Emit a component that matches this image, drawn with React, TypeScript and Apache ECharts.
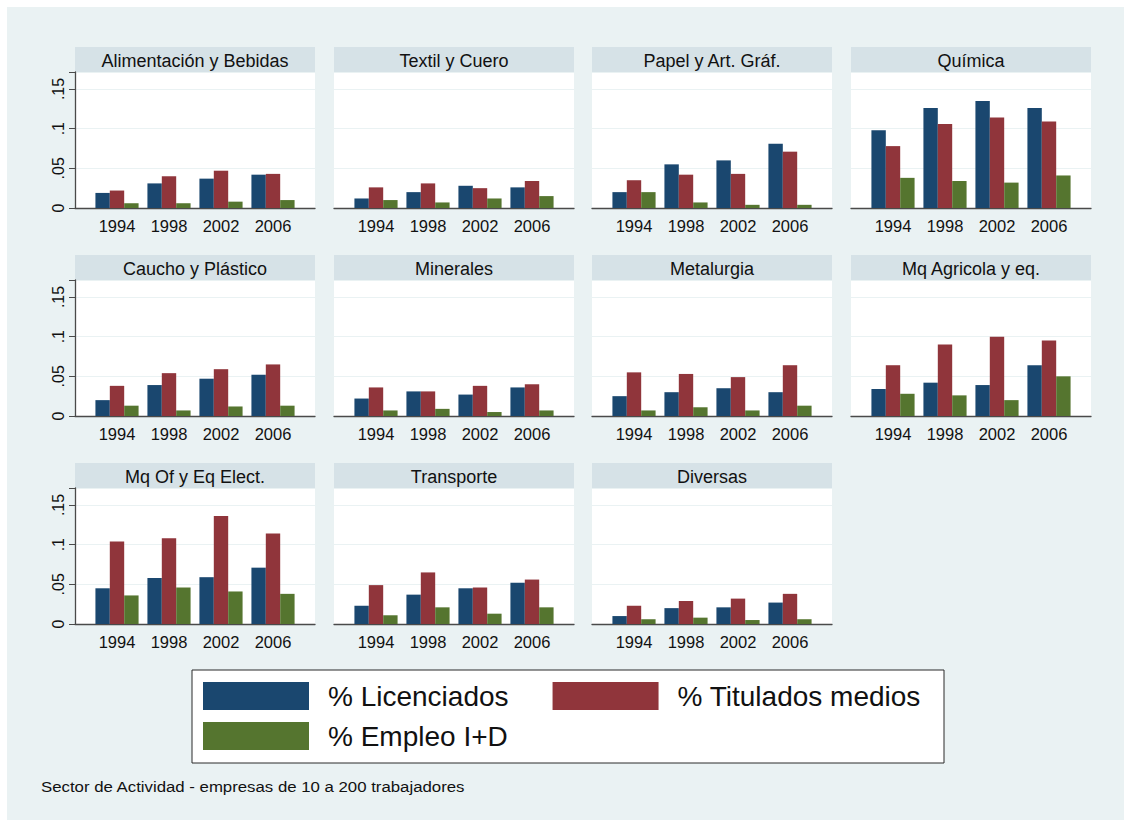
import React, { useEffect, useRef } from 'react';
import * as echarts from 'echarts';

const YEARS = ['1994', '1998', '2002', '2006'];

const SECTORS = [
  'Alimentación y Bebidas',
  'Textil y Cuero',
  'Papel y Art. Gráf.',
  'Química',
  'Caucho y Plástico',
  'Minerales',
  'Metalurgia',
  'Mq Agricola y eq.',
  'Mq Of y Eq Elect.',
  'Transporte',
  'Diversas',
];

// one row per sector, one value per year
const LICENCIADOS = [
  [0.019, 0.031, 0.037, 0.042],
  [0.012, 0.02, 0.028, 0.026],
  [0.02, 0.055, 0.06, 0.081],
  [0.098, 0.126, 0.135, 0.126],
  [0.02, 0.039, 0.047, 0.052],
  [0.022, 0.031, 0.027, 0.036],
  [0.025, 0.03, 0.035, 0.03],
  [0.034, 0.042, 0.039, 0.064],
  [0.045, 0.058, 0.059, 0.071],
  [0.023, 0.037, 0.045, 0.052],
  [0.01, 0.02, 0.021, 0.027],
];

const TITULADOS_MEDIOS = [
  [0.022, 0.04, 0.047, 0.043],
  [0.026, 0.031, 0.025, 0.034],
  [0.035, 0.042, 0.043, 0.071],
  [0.078, 0.106, 0.114, 0.109],
  [0.038, 0.054, 0.059, 0.065],
  [0.036, 0.031, 0.038, 0.04],
  [0.055, 0.053, 0.049, 0.064],
  [0.064, 0.09, 0.1, 0.095],
  [0.104, 0.108, 0.136, 0.114],
  [0.049, 0.065, 0.046, 0.056],
  [0.023, 0.029, 0.032, 0.038],
];

const EMPLEO_ID = [
  [0.006, 0.006, 0.008, 0.01],
  [0.01, 0.007, 0.012, 0.015],
  [0.02, 0.007, 0.004, 0.004],
  [0.038, 0.034, 0.032, 0.041],
  [0.013, 0.007, 0.012, 0.013],
  [0.007, 0.009, 0.005, 0.007],
  [0.007, 0.011, 0.007, 0.013],
  [0.028, 0.026, 0.02, 0.05],
  [0.036, 0.046, 0.041, 0.038],
  [0.011, 0.021, 0.013, 0.021],
  [0.006, 0.008, 0.005, 0.006],
];

const SERIES_NAMES = ['% Licenciados', '% Titulados medios', '% Empleo I+D'];
const SERIES_COLORS = ['#1a476f', '#90353b', '#55752f'];

const Y_TICK_VALUES = [0, 0.05, 0.1, 0.15];
const Y_TICK_LABELS = ['0', '.05', '.1', '.15'];
const Y_MAX = 0.1714;

const FOOTNOTE = 'Sector de Actividad - empresas de 10 a 200 trabajadores';

const FONT = '"Liberation Sans", Arial, Helvetica, sans-serif';
const BG = '#eaf2f3';
const STRIP = '#d6e2e7';
const AXIS = '#4a4a4a';

// chart canvas is inset by this offset inside the white page frame
const OFF = 7;
const PANEL_W = 240;
const PANEL_PAD = 16;
const STRIP_H = 25;
const PLOT_H = 136;
const COL_X = [75, 334, 592, 851];
const ROW_Y = [47, 255, 463];

function buildOption() {
  const grid: any[] = [];
  const xAxis: any[] = [];
  const yAxis: any[] = [];
  const series: any[] = [];
  const graphic: any[] = [];
  const values = [LICENCIADOS, TITULADOS_MEDIOS, EMPLEO_ID];

  SECTORS.forEach((sector, i) => {
    const r = Math.floor(i / 4);
    const c = i % 4;
    const left = COL_X[c] - OFF;
    const stripTop = ROW_Y[r] - OFF;
    const plotTop = stripTop + STRIP_H;
    const first = c === 0;

    // panel frame: white plot area, gridlines, axes
    grid.push({
      left,
      top: plotTop,
      width: PANEL_W,
      height: PLOT_H,
      show: true,
      backgroundColor: '#ffffff',
      borderWidth: 0,
      containLabel: false,
    });
    // bar area, inset from the frame
    grid.push({
      left: left + PANEL_PAD,
      top: plotTop,
      width: PANEL_W - 2 * PANEL_PAD,
      height: PLOT_H,
      show: false,
      containLabel: false,
    });

    xAxis.push({
      gridIndex: 2 * i,
      type: 'value',
      min: 0,
      max: 1,
      axisLine: { show: true, lineStyle: { color: AXIS, width: 1.3 } },
      axisTick: { show: false },
      axisLabel: { show: false },
      splitLine: { show: false },
    });
    yAxis.push({
      gridIndex: 2 * i,
      type: 'value',
      min: 0,
      max: Y_MAX,
      interval: 0.05,
      axisLine: { show: first, lineStyle: { color: AXIS, width: 1.3 } },
      axisTick: { show: first, length: 6, lineStyle: { color: AXIS } },
      axisLabel: {
        show: first,
        rotate: 90,
        margin: 9,
        fontSize: 16,
        fontFamily: FONT,
        color: '#111',
        formatter: (v: number) => {
          const k = Y_TICK_VALUES.findIndex((t) => Math.abs(t - v) < 1e-9);
          return k >= 0 ? Y_TICK_LABELS[k] : '';
        },
      },
      splitLine: { show: true, lineStyle: { color: BG, width: 1.2 } },
    });

    xAxis.push({
      gridIndex: 2 * i + 1,
      type: 'category',
      data: YEARS,
      axisLine: { show: false },
      axisTick: { show: false },
      axisLabel: { fontSize: 16.5, fontFamily: FONT, color: '#111', margin: 9 },
      splitLine: { show: false },
    });
    yAxis.push({
      gridIndex: 2 * i + 1,
      type: 'value',
      min: 0,
      max: Y_MAX,
      show: false,
      splitLine: { show: false },
    });

    values.forEach((vals, s) => {
      series.push({
        type: 'bar',
        name: SERIES_NAMES[s],
        xAxisIndex: 2 * i + 1,
        yAxisIndex: 2 * i + 1,
        data: vals[i],
        barGap: '0%',
        barCategoryGap: '17%',
        itemStyle: { color: SERIES_COLORS[s] },
        z: 3,
      });
    });

    graphic.push({
      type: 'rect',
      shape: { x: left, y: stripTop, width: PANEL_W, height: STRIP_H },
      style: { fill: STRIP },
      silent: true,
    });
    graphic.push({
      type: 'text',
      x: left + PANEL_W / 2,
      y: stripTop + STRIP_H / 2 + 1,
      style: {
        text: sector,
        fontSize: 18,
        fontFamily: FONT,
        fill: '#111',
        align: 'center',
        verticalAlign: 'middle',
        textAlign: 'center',
        textVerticalAlign: 'middle',
      },
      silent: true,
    });
  });

  // legend frame
  graphic.push({
    type: 'rect',
    z: 0,
    shape: { x: 192 - OFF, y: 670 - OFF, width: 752, height: 93 },
    style: { fill: '#ffffff', stroke: '#2a2a2a', lineWidth: 1 },
    silent: true,
  });
  // note below the legend, drawn slightly wide
  graphic.push({
    type: 'text',
    x: 41 - OFF,
    y: 787 - OFF,
    scaleX: 1.12,
    style: {
      text: FOOTNOTE,
      fontSize: 15,
      fontFamily: FONT,
      fill: '#111',
      align: 'left',
      verticalAlign: 'middle',
      textAlign: 'left',
      textVerticalAlign: 'middle',
    },
    silent: true,
  });

  const legendBase = {
    orient: 'horizontal',
    icon: 'rect',
    itemWidth: 106,
    itemHeight: 28,
    itemGap: 44,
    padding: 0,
    selectedMode: false,
    z: 10,
    textStyle: {
      fontSize: 28,
      fontFamily: FONT,
      color: '#111',
      padding: [0, 0, 0, 14],
    },
  };

  return {
    animation: false,
    backgroundColor: BG,
    grid,
    xAxis,
    yAxis,
    series,
    graphic,
    legend: [
      { ...legendBase, data: [SERIES_NAMES[0], SERIES_NAMES[1]], left: 203 - OFF, top: 682 - OFF },
      { ...legendBase, data: [SERIES_NAMES[2]], left: 203 - OFF, top: 722 - OFF },
    ],
  };
}

export default function App() {
  const ref = useRef<HTMLDivElement>(null);

  useEffect(() => {
    if (!ref.current) return;
    const chart = echarts.init(ref.current, null, { renderer: 'svg' });
    chart.setOption(buildOption() as any);
    return () => chart.dispose();
  }, []);

  return (
    <div style={{ position: 'fixed', left: 0, top: 0, width: 1124, height: 820, background: '#ffffff' }}>
      <div
        ref={ref}
        style={{ position: 'absolute', left: OFF, top: OFF, width: 1124 - OFF, height: 820 - OFF }}
      />
    </div>
  );
}
